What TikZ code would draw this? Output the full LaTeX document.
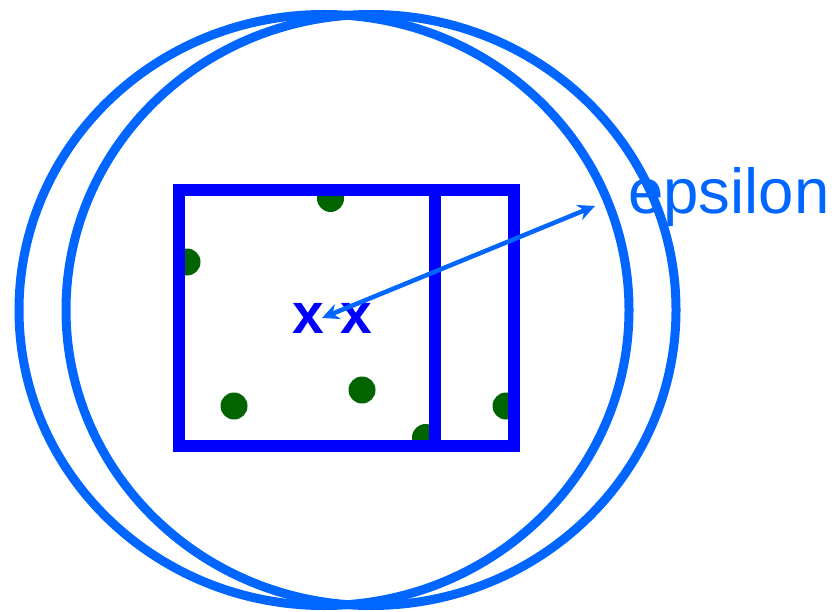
\documentclass[tikz,border=0pt]{standalone}
\usepackage{fontspec}
\setmainfont{Liberation Sans}
\usetikzlibrary{arrows.meta}
\definecolor{lblue}{HTML}{0066FF}
\definecolor{dblue}{HTML}{0000FF}
\definecolor{dgreen}{HTML}{006400}
\begin{document}
\begin{tikzpicture}[x=1pt,y=-1pt,
  ring/.style={draw=lblue,line width=9pt},
  box/.style={draw=dblue,line width=12pt},
  dot/.style={fill=dgreen},
  xmark/.style={text=dblue,font=\fontsize{57}{57}\selectfont\bfseries,inner sep=0pt,anchor=base},
  arr/.style={draw=lblue,line width=4.5pt,{Stealth[length=17pt,width=16pt]}-{Stealth[length=17pt,width=16pt]}}]
\useasboundingbox (0,0) rectangle (834,612);
\draw[ring] (324,310) ellipse [x radius=305, y radius=295.5];
\draw[ring] (371,310) ellipse [x radius=305, y radius=295.5];
\foreach \p in {(330.5,198.5),(187,262),(234,406),(362,390),(425.5,437.5),(506,406)}
  \fill[dot] \p circle (13.5);
\draw[box] (178.5,190.5) rectangle (435,446);
\draw[box] (435,190.5) rectangle (514,446);
\node[xmark] (x1) at (308,333) {x};
\node[xmark] (x2) at (356.5,333) {x};
\coordinate (a1) at (322,318);
\coordinate (a2) at (595,206);
\draw[arr] (a1) -- (a2);
\node[text=lblue,font=\fontsize{63.5}{63.5}\selectfont,inner sep=0pt,anchor=base west] (eps) at (628,214) {epsilon};
\end{tikzpicture}
\end{document}
